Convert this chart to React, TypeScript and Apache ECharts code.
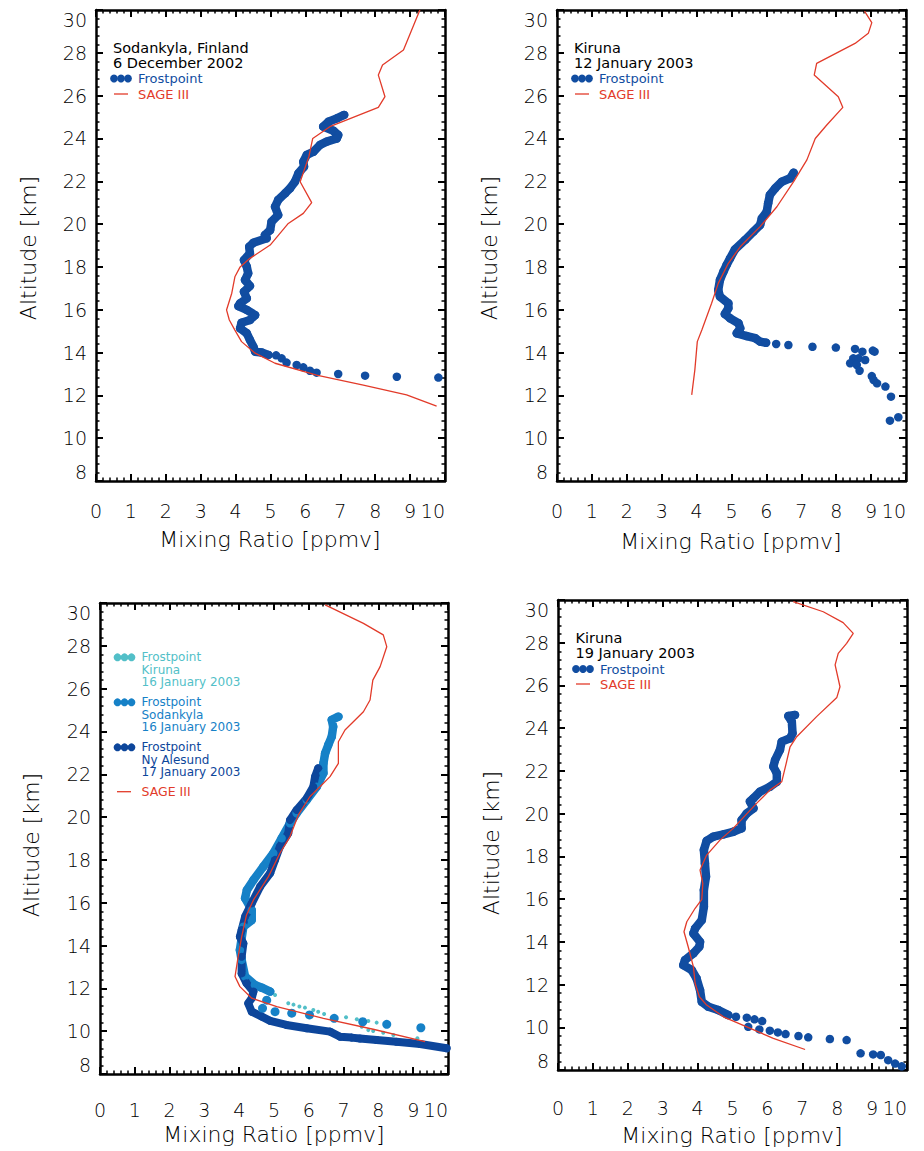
import React, { useEffect, useRef } from "react";
import * as echarts from "echarts";

// ---------- DATA (mixing ratio [ppmv], altitude [km]) ----------
// Panel 1: Sodankyla, Finland, 6 December 2002
const dec6FrostDense: number[][] = [
  [7.11, 25.1], [6.9, 24.94], [6.66, 24.78], [6.51, 24.55], [6.8, 24.36], [6.94, 24.16], [6.9, 24.0],
  [6.61, 23.85], [6.42, 23.7], [6.23, 23.38], [6.04, 23.23], [5.94, 22.91], [5.96, 22.68], [5.8, 22.37],
  [5.7, 21.98], [5.56, 21.67], [5.42, 21.44], [5.22, 21.13], [5.13, 20.81], [5.22, 20.42], [5.03, 20.11],
  [4.99, 19.72], [4.84, 19.49], [4.89, 19.34], [4.51, 19.13], [4.39, 18.94], [4.41, 18.63], [4.24, 18.32],
  [4.32, 18.01], [4.36, 17.7], [4.27, 17.39], [4.41, 17.11], [4.24, 16.84], [4.32, 16.53], [4.13, 16.3],
  [4.08, 16.17], [4.32, 15.99], [4.56, 15.75], [4.41, 15.52], [4.17, 15.39], [4.13, 15.13], [4.32, 14.9],
  [4.41, 14.59], [4.51, 14.27], [4.56, 14.04], [4.75, 14.0], [4.94, 13.89],
];
const dec6FrostSparse: number[][] = [
  [5.16, 13.87], [5.32, 13.73], [5.46, 13.53], [5.75, 13.42], [5.94, 13.31], [6.13, 13.15], [6.32, 13.06],
  [6.94, 13.0], [7.71, 12.92], [8.62, 12.87], [9.81, 12.83],
];
const dec6Sage: number[][] = [
  [9.28, 30.0], [8.81, 28.13], [8.21, 27.43], [8.09, 26.96], [8.28, 25.95], [8.09, 25.45], [6.7, 24.55],
  [6.21, 24.0], [6.1, 23.15], [5.85, 21.98], [6.18, 21.0], [5.94, 20.5], [5.51, 20.03], [4.99, 19.02],
  [4.41, 18.4], [4.13, 18.0], [3.98, 17.54], [3.89, 16.77], [3.74, 15.99], [3.82, 15.52], [3.98, 15.05],
  [4.17, 14.51], [4.56, 13.97], [5.13, 13.5], [6.32, 12.95], [7.66, 12.48], [8.9, 12.02], [9.76, 11.5],
];

// Panel 2: Kiruna, 12 January 2003
const jan12FrostDense: number[][] = [
  [6.78, 22.4], [6.68, 22.14], [6.44, 21.98], [6.25, 21.67], [6.1, 21.36], [6.05, 20.97], [6.01, 20.58],
  [5.87, 20.27], [5.82, 19.96], [5.63, 19.65], [5.39, 19.26], [5.1, 18.82], [4.96, 18.4], [4.86, 18.09],
  [4.77, 17.78], [4.67, 17.39], [4.62, 16.92], [4.67, 16.61], [4.91, 16.3], [4.91, 16.07], [4.81, 15.8],
  [4.96, 15.6], [5.2, 15.37], [5.25, 15.13], [5.15, 14.9], [5.44, 14.77], [5.68, 14.67], [5.82, 14.51],
  [5.99, 14.46],
];
const jan12FrostSparse: number[][] = [
  [6.28, 14.4], [6.63, 14.35], [7.32, 14.27], [7.99, 14.23], [8.54, 14.17], [8.75, 14.04], [9.05, 14.09],
  [9.1, 14.04], [8.49, 13.73], [8.64, 13.73], [8.83, 13.65], [8.4, 13.5], [8.59, 13.42], [8.67, 13.15],
  [9.02, 12.9], [9.07, 12.72], [9.17, 12.56], [9.41, 12.41], [9.57, 11.94], [9.54, 10.82], [9.78, 10.98],
];
const jan12Sage: number[][] = [
  [8.81, 29.95], [9.02, 29.41], [8.92, 28.91], [8.54, 28.44], [7.44, 27.51], [7.37, 26.96], [8.06, 25.95],
  [8.19, 25.45], [7.73, 24.63], [7.4, 24.0], [7.16, 23.0], [6.78, 21.98], [6.3, 20.81], [5.82, 19.88],
  [5.25, 18.94], [4.91, 18.17], [4.62, 17.23], [4.43, 16.3], [4.15, 15.05], [4.02, 14.51], [3.95, 13.19],
  [3.86, 12.02],
];

// Panel 3: Kiruna 16 Jan, Sodankyla 16 Jan, Ny Alesund 17 Jan 2003
const jan16KirunaFrost: number[][] = [
  [5.03, 11.69], [5.41, 11.3], [5.56, 11.24], [5.73, 11.15], [5.89, 11.1], [6.13, 10.99], [6.27, 10.91],
  [6.44, 10.8], [7.07, 10.65], [7.38, 10.56], [7.71, 10.48], [7.95, 10.4], [7.52, 10.21], [7.71, 10.05],
  [7.85, 10.01], [8.14, 9.93], [8.43, 9.82], [9.12, 9.67],
];
const jan16SodankylaDense: number[][] = [
  [6.85, 24.69], [6.66, 24.54], [6.7, 24.22], [6.66, 23.76], [6.56, 23.37], [6.47, 22.98], [6.42, 22.51],
  [6.42, 22.05], [6.23, 21.42], [5.94, 20.8], [5.65, 20.18], [5.46, 19.71], [5.22, 19.01], [4.98, 18.31],
  [4.69, 17.68], [4.41, 17.06], [4.22, 16.59], [4.17, 16.21], [4.36, 15.66], [4.36, 15.19], [4.12, 14.88],
  [4.02, 13.79], [4.07, 13.33], [4.17, 12.55], [4.45, 12.16], [4.65, 12.03], [4.89, 11.85],
];
const jan16SodankylaSparse: number[][] = [
  [4.79, 11.45], [4.67, 11.07], [5.03, 10.91], [5.51, 10.84], [6.02, 10.76], [6.73, 10.6], [7.55, 10.44],
  [8.24, 10.32], [9.22, 10.16],
];
const jan17NyAlesundFrost: number[][] = [
  [6.27, 22.28], [6.18, 21.89], [6.13, 21.42], [5.94, 20.88], [5.65, 20.33], [5.46, 19.86], [5.41, 19.24],
  [5.17, 18.62], [5.03, 18.0], [4.89, 17.38], [4.6, 16.75], [4.36, 15.97], [4.17, 15.35], [4.07, 14.73],
  [4.02, 14.41], [4.12, 14.1], [4.07, 13.48], [4.07, 12.7], [4.21, 12.24], [4.41, 11.85], [4.36, 11.54],
  [4.26, 11.3], [4.36, 10.91], [4.65, 10.68], [4.89, 10.48], [5.36, 10.29], [5.94, 10.14], [6.61, 9.98],
  [6.9, 9.74], [7.23, 9.7], [7.47, 9.66], [7.95, 9.59], [8.52, 9.51], [9.2, 9.4], [9.96, 9.2],
];
const jan16Sage: number[][] = [
  [6.47, 29.91], [7.57, 29.05], [8.14, 28.51], [8.24, 27.96], [8.05, 27.03], [7.84, 26.4], [7.76, 25.47],
  [7.57, 24.92], [7.04, 24.07], [6.85, 23.52], [6.85, 22.51], [6.61, 21.89], [6.32, 21.42], [6.03, 20.95],
  [5.7, 20.1], [5.46, 19.09], [5.17, 18.31], [4.84, 17.22], [4.41, 16.13], [4.21, 15.43], [4.07, 14.41],
  [3.97, 13.48], [3.88, 12.55], [4.02, 12.08], [4.36, 11.54], [5.08, 11.15], [6.42, 10.6], [7.85, 10.09],
  [9.34, 9.51],
];

// Panel 4: Kiruna, 19 January 2003
const jan19FrostDense: number[][] = [
  [6.79, 24.62], [6.6, 24.57], [6.7, 24.3], [6.72, 23.76], [6.65, 23.53], [6.41, 23.37], [6.36, 22.98],
  [6.22, 22.51], [6.17, 22.2], [6.27, 21.89], [6.27, 21.49], [6.07, 21.26], [5.79, 21.03], [5.6, 20.72],
  [5.5, 20.57], [5.6, 20.25], [5.41, 20.01], [5.26, 19.7], [5.26, 19.31], [5.02, 19.15], [4.74, 19.03],
  [4.45, 18.92], [4.26, 18.73], [4.18, 18.3], [4.21, 17.67], [4.24, 17.05], [4.18, 16.42], [4.18, 15.64],
  [4.12, 15.02], [3.93, 14.63], [3.88, 14.39], [4.07, 14.0], [4.05, 13.77], [3.88, 13.46], [3.64, 13.15],
  [3.59, 12.91], [3.83, 12.68], [3.97, 12.29], [4.07, 11.74], [4.12, 11.19], [4.31, 10.96], [4.59, 10.81],
  [4.88, 10.57],
];
const jan19FrostSparse: number[][] = [
  [5.1, 10.49], [5.41, 10.45], [5.63, 10.37], [5.85, 10.29], [5.45, 10.02], [5.77, 9.9], [6.07, 9.84],
  [6.3, 9.76], [6.52, 9.68], [6.89, 9.59], [7.17, 9.53], [7.79, 9.45], [8.27, 9.4], [8.67, 8.78],
  [9.03, 8.73], [9.25, 8.7], [9.46, 8.46], [9.66, 8.3], [9.85, 8.17],
];
const jan19Sage: number[][] = [
  [6.74, 29.92], [7.6, 29.45], [8.17, 28.94], [8.46, 28.44], [8.27, 27.97], [8.03, 27.5], [7.94, 26.96],
  [8.08, 25.94], [7.99, 25.44], [7.41, 24.54], [6.84, 23.6], [6.65, 23.13], [6.55, 22.43], [6.41, 21.49],
  [6.07, 21.1], [5.69, 20.48], [5.02, 19.31], [4.64, 18.76], [4.26, 18.06], [4.07, 17.36], [4.15, 16.74],
  [4.12, 15.99], [3.93, 15.57], [3.69, 14.94], [3.61, 14.47], [3.73, 13.77], [3.88, 12.83], [3.93, 12.05],
  [4.05, 11.43], [4.26, 11.04], [4.74, 10.49], [5.41, 10.02], [6.17, 9.48], [7.08, 8.96],
];

// Axis texts
const xAxisTitle = "Mixing Ratio [ppmv]";
const yAxisTitle = "Altitude [km]";

// ---------- STYLE ----------
const FONT = "'DejaVu Sans', sans-serif";
const W = 200;
const BLUE = "#114DA1";
const MID_BLUE = "#1681C7";
const CYAN = "#52BFC8";
const DARK_BLUE = "#0D469B";
const RED = "#E23B2A";

const panels = [
  { left: 96, top: 10, width: 349, height: 471, xMargin: 20 },
  { left: 557, top: 10, width: 349, height: 471, xMargin: 20 },
  { left: 100, top: 603, width: 348, height: 471, xMargin: 26 },
  { left: 558, top: 600, width: 349, height: 470, xMargin: 28 },
];

function axisCommon(gridIndex: number) {
  return {
    gridIndex,
    type: "value",
    axisLine: { show: true, onZero: false, lineStyle: { color: "#000", width: 2.5 } },
    axisTick: { show: true, inside: true, length: 7, lineStyle: { color: "#000", width: 2 } },
    minorTick: { show: true, splitNumber: 5, length: 3.5, lineStyle: { color: "#000", width: 1.5 } },
    splitLine: { show: false },
    minorSplitLine: { show: false },
  };
}

export default function App() {
  const ref = useRef<HTMLDivElement>(null);
  useEffect(() => {
    if (!ref.current) return;
    const chart = echarts.init(ref.current, undefined, { renderer: "svg" });

    const grid = panels.map((p) => ({ left: p.left, top: p.top, width: p.width, height: p.height, containLabel: false }));
    const xAxis: any[] = [];
    const yAxis: any[] = [];
    panels.forEach((p, i) => {
      xAxis.push({
        ...axisCommon(i), min: 0, max: 10, interval: 1, position: "bottom",
        axisLabel: { show: true, margin: p.xMargin, fontSize: 19, fontWeight: W, color: "#000", fontFamily: FONT, alignMaxLabel: "right" },
      });
      xAxis.push({ ...axisCommon(i), min: 0, max: 10, interval: 1, position: "top", axisLabel: { show: false } });
      yAxis.push({
        ...axisCommon(i), min: 8, max: 30, interval: 2, position: "left",
        axisLabel: {
          show: true, margin: 9, fontSize: 19, fontWeight: W, color: "#000", fontFamily: FONT,
          verticalAlignMinLabel: "bottom", verticalAlignMaxLabel: "top",
        },
      });
      yAxis.push({ ...axisCommon(i), min: 8, max: 30, interval: 2, position: "right", axisLabel: { show: false } });
    });

    const dense = (panel: number, data: number[][], color: string, size = 8.5) => ({
      type: "line", xAxisIndex: panel * 2, yAxisIndex: panel * 2, data,
      symbol: "circle", symbolSize: size, showSymbol: true, showAllSymbol: true,
      itemStyle: { color }, lineStyle: { color, width: size, cap: "round", join: "round" },
      silent: true, z: 2,
    });
    const sparse = (panel: number, data: number[][], color: string, size = 8.5) => ({
      type: "scatter", xAxisIndex: panel * 2, yAxisIndex: panel * 2, data,
      symbol: "circle", symbolSize: size, itemStyle: { color, opacity: 1 }, silent: true, z: 2,
    });
    const sage = (panel: number, data: number[][]) => ({
      type: "line", xAxisIndex: panel * 2, yAxisIndex: panel * 2, data, symbol: "none",
      lineStyle: { color: RED, width: 1.3 }, silent: true, z: 5,
    });

    const series = [
      dense(0, dec6FrostDense, BLUE), sparse(0, dec6FrostSparse, BLUE), sage(0, dec6Sage),
      dense(1, jan12FrostDense, BLUE), sparse(1, jan12FrostSparse, BLUE), sage(1, jan12Sage),
      sparse(2, jan16KirunaFrost, CYAN, 4),
      dense(2, jan16SodankylaDense, MID_BLUE), sparse(2, jan16SodankylaSparse, MID_BLUE, 9),
      dense(2, jan17NyAlesundFrost, DARK_BLUE, 8),
      sage(2, jan16Sage),
      dense(3, jan19FrostDense, BLUE), sparse(3, jan19FrostSparse, BLUE), sage(3, jan19Sage),
    ];

    const txt = (x: number, y: number, text: string, size: number, fill: string) => ({
      type: "text", x, y, silent: true, z: 10,
      style: { text, fill, font: `normal ${size}px ${FONT}`, textAlign: "left", textVerticalAlign: "middle" },
    });
    const dots = (x: number, y: number, color: string) =>
      [0, 7, 14].map((dx) => ({ type: "circle", shape: { cx: x + dx, cy: y, r: 3.9 }, style: { fill: color }, silent: true, z: 10 }));
    const dash = (x: number, y: number) => ({
      type: "line", shape: { x1: x, y1: y, x2: x + 14, y2: y }, style: { stroke: RED, lineWidth: 1.3 }, silent: true, z: 10,
    });
    const xTitle = (x: number, y: number) => ({
      type: "text", x, y, silent: true,
      style: { text: xAxisTitle, fill: "#000", font: `${W} 22px ${FONT}`, textAlign: "center", textVerticalAlign: "middle" },
    });
    const yTitle = (x: number, y: number) => ({
      type: "text", x, y, rotation: Math.PI / 2, silent: true,
      style: { text: yAxisTitle, fill: "#000", font: `${W} 22px ${FONT}`, textAlign: "center", textVerticalAlign: "middle" },
    });
    const block3 = (y: number, lines: string[], color: string) =>
      lines.map((l, k) => txt(141.5, y + k * 12.5, l, 12, color));

    const graphic: any[] = [
      // Panel 1
      txt(113, 47.5, "Sodankyla, Finland", 14.5, "#000"),
      txt(113, 63, "6 December 2002", 14.5, "#000"),
      ...dots(114, 78.5, BLUE), txt(138, 78.5, "Frostpoint", 13, BLUE),
      dash(114, 94), txt(138, 94, "SAGE III", 13, RED),
      // Panel 2
      txt(574, 47.5, "Kiruna", 14.5, "#000"),
      txt(574, 63, "12 January 2003", 14.5, "#000"),
      ...dots(575, 78.5, BLUE), txt(599, 78.5, "Frostpoint", 13, BLUE),
      dash(575, 94), txt(599, 94, "SAGE III", 13, RED),
      // Panel 3
      ...dots(117.5, 657.3, CYAN),
      ...block3(657.3, ["Frostpoint", "Kiruna", "16 January 2003"], CYAN),
      ...dots(117.5, 702.3, MID_BLUE),
      ...block3(702.3, ["Frostpoint", "Sodankyla", "16 January 2003"], MID_BLUE),
      ...dots(117.5, 747.3, DARK_BLUE),
      ...block3(747.3, ["Frostpoint", "Ny Alesund", "17 January 2003"], DARK_BLUE),
      dash(117, 791.7), txt(141.5, 791.7, "SAGE III", 12.5, RED),
      // Panel 4
      txt(575.5, 637.7, "Kiruna", 14.5, "#000"),
      txt(575.5, 653.2, "19 January 2003", 14.5, "#000"),
      ...dots(576, 669, BLUE), txt(600, 669, "Frostpoint", 13, BLUE),
      dash(576, 684), txt(600, 684, "SAGE III", 13, RED),
      // Axis titles
      xTitle(270, 539), xTitle(731, 541), xTitle(274, 1134), xTitle(732, 1135),
      yTitle(28, 248), yTitle(489, 248), yTitle(31, 845), yTitle(491, 843),
    ];

    chart.setOption({
      animation: false,
      backgroundColor: "#fff",
      grid, xAxis, yAxis, series, graphic,
    });
    return () => chart.dispose();
  }, []);
  return <div ref={ref} style={{ position: "absolute", left: 0, top: 0, width: 924, height: 1151 }} />;
}
